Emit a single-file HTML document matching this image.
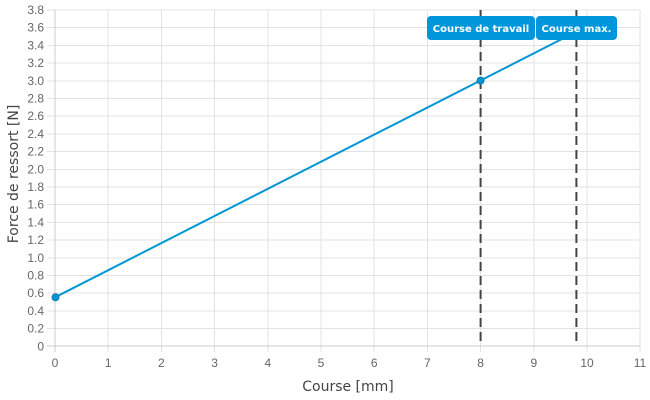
<!DOCTYPE html>
<html><head><meta charset="utf-8"><style>
html,body{margin:0;padding:0;background:#fff;}
svg{display:block;}
</style></head><body>
<svg width="650" height="400" viewBox="0 0 650 400" xmlns="http://www.w3.org/2000/svg">
<rect width="650" height="400" fill="#fff"/>
<g stroke="#e3e3e3" stroke-width="1" shape-rendering="crispEdges">
<line x1="47" x2="640" y1="10" y2="10"/>
<line x1="47" x2="640" y1="27.7" y2="27.7"/>
<line x1="47" x2="640" y1="45.4" y2="45.4"/>
<line x1="47" x2="640" y1="63.1" y2="63.1"/>
<line x1="47" x2="640" y1="80.8" y2="80.8"/>
<line x1="47" x2="640" y1="98.5" y2="98.5"/>
<line x1="47" x2="640" y1="116.2" y2="116.2"/>
<line x1="47" x2="640" y1="133.9" y2="133.9"/>
<line x1="47" x2="640" y1="151.6" y2="151.6"/>
<line x1="47" x2="640" y1="169.3" y2="169.3"/>
<line x1="47" x2="640" y1="187" y2="187"/>
<line x1="47" x2="640" y1="204.7" y2="204.7"/>
<line x1="47" x2="640" y1="222.4" y2="222.4"/>
<line x1="47" x2="640" y1="240.1" y2="240.1"/>
<line x1="47" x2="640" y1="257.8" y2="257.8"/>
<line x1="47" x2="640" y1="275.5" y2="275.5"/>
<line x1="47" x2="640" y1="293.2" y2="293.2"/>
<line x1="47" x2="640" y1="310.9" y2="310.9"/>
<line x1="47" x2="640" y1="328.6" y2="328.6"/>
<line x1="108.2" x2="108.2" y1="10" y2="352"/>
<line x1="161.4" x2="161.4" y1="10" y2="352"/>
<line x1="214.6" x2="214.6" y1="10" y2="352"/>
<line x1="267.8" x2="267.8" y1="10" y2="352"/>
<line x1="321" x2="321" y1="10" y2="352"/>
<line x1="374.2" x2="374.2" y1="10" y2="352"/>
<line x1="427.4" x2="427.4" y1="10" y2="352"/>
<line x1="480.6" x2="480.6" y1="10" y2="352"/>
<line x1="533.8" x2="533.8" y1="10" y2="352"/>
<line x1="587" x2="587" y1="10" y2="352"/>
<line x1="640" x2="640" y1="10" y2="352"/>
</g>
<g stroke="#cccccc" stroke-width="1" shape-rendering="crispEdges">
<line x1="55" x2="55" y1="10" y2="352"/>
<line x1="47" x2="640" y1="346" y2="346"/>
</g>
<g font-family="Liberation Sans, sans-serif" font-size="12" fill="#666" text-anchor="end">
<text x="44" y="14">3.8</text>
<text x="44" y="31.7">3.6</text>
<text x="44" y="49.4">3.4</text>
<text x="44" y="67.1">3.2</text>
<text x="44" y="84.8">3.0</text>
<text x="44" y="102.5">2.8</text>
<text x="44" y="120.2">2.6</text>
<text x="44" y="137.9">2.4</text>
<text x="44" y="155.6">2.2</text>
<text x="44" y="173.3">2.0</text>
<text x="44" y="191">1.8</text>
<text x="44" y="208.7">1.6</text>
<text x="44" y="226.4">1.4</text>
<text x="44" y="244.1">1.2</text>
<text x="44" y="261.8">1.0</text>
<text x="44" y="279.5">0.8</text>
<text x="44" y="297.2">0.6</text>
<text x="44" y="314.9">0.4</text>
<text x="44" y="332.6">0.2</text>
<text x="44" y="350.3">0</text>
</g>
<g font-family="Liberation Sans, sans-serif" font-size="12" fill="#666" text-anchor="middle">
<text x="55" y="367">0</text>
<text x="108.2" y="367">1</text>
<text x="161.4" y="367">2</text>
<text x="214.6" y="367">3</text>
<text x="267.8" y="367">4</text>
<text x="321" y="367">5</text>
<text x="374.2" y="367">6</text>
<text x="427.4" y="367">7</text>
<text x="480.6" y="367">8</text>
<text x="533.8" y="367">9</text>
<text x="587" y="367">10</text>
<text x="640" y="367">11</text>
</g>
<text x="348" y="391" font-family="DejaVu Sans, sans-serif" font-size="14" fill="#444" text-anchor="middle">Course [mm]</text>
<text transform="translate(18,174) rotate(-90)" font-family="DejaVu Sans, sans-serif" font-size="14" fill="#444" text-anchor="middle">Force de ressort [N]</text>
<line x1="55" y1="297.3" x2="576.4" y2="31.6" stroke="#0096d6" stroke-width="2"/>
<g stroke="#444" stroke-width="2" stroke-dasharray="9,5">
<line x1="480.6" x2="480.6" y1="10" y2="346"/>
<line x1="576.4" x2="576.4" y1="10" y2="346"/>
</g>
<circle cx="55.5" cy="297.3" r="3.5" fill="#0096d6" stroke="#1679ad" stroke-width="1"/>
<circle cx="480.6" cy="80.6" r="3.5" fill="#0096d6" stroke="#1679ad" stroke-width="1"/>
<g font-family="DejaVu Sans, sans-serif" font-weight="bold" font-size="10" fill="#fff" text-anchor="middle">
<rect x="427" y="16" width="108" height="24" rx="4" fill="#0096dc"/>
<text x="481" y="32">Course de travail</text>
<rect x="536" y="16" width="81" height="24" rx="4" fill="#0096dc"/>
<text x="576.5" y="32">Course max.</text>
</g>
</svg>
</body></html>
